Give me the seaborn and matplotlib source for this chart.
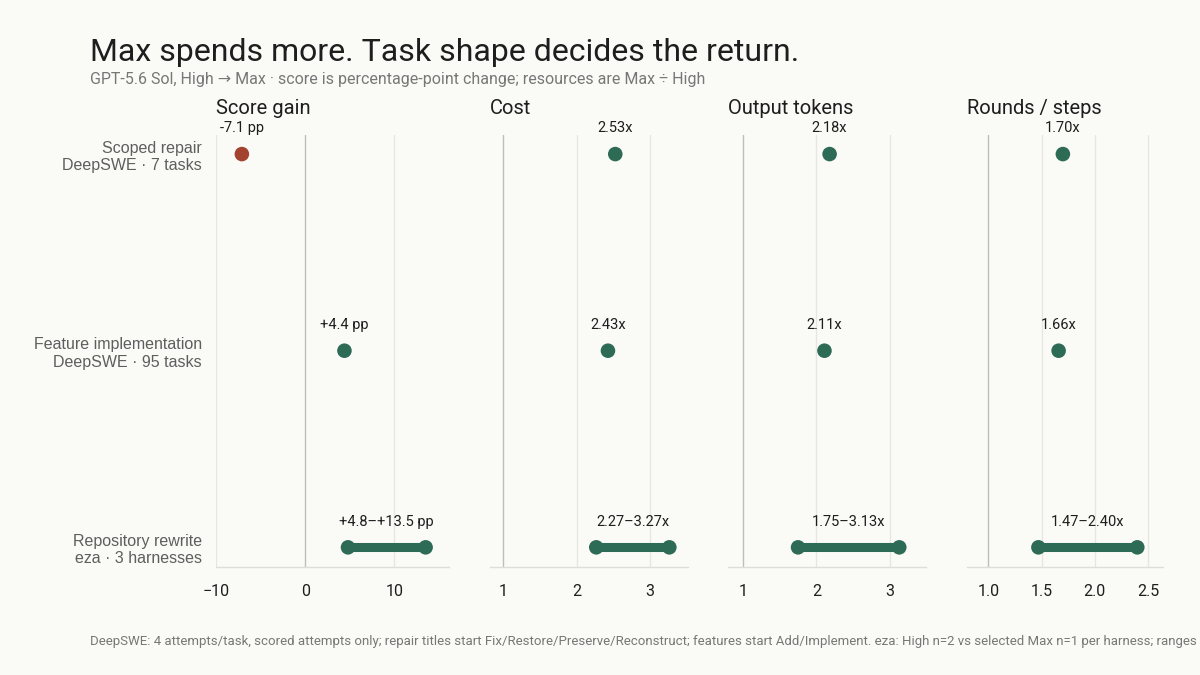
import matplotlib
matplotlib.use("Agg")
import matplotlib.pyplot as plt
import seaborn as sns
import pandas as pd

# data
rows = ["Scoped repair\nDeepSWE · 7 tasks",
        "Feature implementation\nDeepSWE · 95 tasks",
        "Repository rewrite\neza · 3 harnesses"]
panels = ["Score gain", "Cost", "Output tokens", "Rounds / steps"]

score_lo = [-7.1, 4.4, 4.8]
score_hi = [-7.1, 4.4, 13.5]
cost_lo = [2.53, 2.43, 2.27]
cost_hi = [2.53, 2.43, 3.27]
tokens_lo = [2.18, 2.11, 1.75]
tokens_hi = [2.18, 2.11, 3.13]
rounds_lo = [1.70, 1.66, 1.47]
rounds_hi = [1.70, 1.66, 2.40]

score_labels = ["-7.1 pp", "+4.4 pp", "+4.8\u2013+13.5 pp"]
cost_labels = ["2.53x", "2.43x", "2.27\u20133.27x"]
tokens_labels = ["2.18x", "2.11x", "1.75\u20133.13x"]
rounds_labels = ["1.70x", "1.66x", "1.47\u20132.40x"]

score_ticks = [-10, 0, 10]
cost_ticks = [1, 2, 3]
tokens_ticks = [1, 2, 3]
rounds_ticks = [1.0, 1.5, 2.0, 2.5]

BG = "#FAFAF7"
GREEN = "#2E6B57"
RED = "#A3432F"
INK = "#1E1E1E"
GREY = "#5E5E5E"

sns.set_theme(style="white")
plt.rcParams["font.family"] = ["Roboto", "DejaVu Sans"]

fig = plt.figure(figsize=(12, 6.75), dpi=100, facecolor=BG)

specs = [
    (score_lo, score_hi, score_labels, score_ticks, (-10, 16.1), 0, "{:g}"),
    (cost_lo, cost_hi, cost_labels, cost_ticks, (0.81, 3.52), 1, "{:g}"),
    (tokens_lo, tokens_hi, tokens_labels, tokens_ticks, (0.8, 3.5), 1, "{:g}"),
    (rounds_lo, rounds_hi, rounds_labels, rounds_ticks, (0.8, 2.64), 1, "{:.1f}"),
]
lefts = [0.180, 0.408, 0.607, 0.806]
widths = [0.194, 0.165, 0.165, 0.163]

for i, (lo, hi, labs, ticks, xlim, ref, fmt) in enumerate(specs):
    ax = fig.add_axes([lefts[i], 0.16, widths[i], 0.64])
    ax.set_facecolor(BG)
    df = pd.DataFrame({"row": range(len(rows)), "lo": lo, "hi": hi, "lab": labs})
    df["kind"] = ["neg" if (i == 0 and h < 0) else "pos" for h in df["hi"]]

    for t in ticks:
        ax.axvline(t, color="#BDBDBD" if t == ref else "#E6E6E3",
                   lw=1.0, zorder=0)

    rng = df[df["lo"] != df["hi"]]
    ax.hlines(rng["row"], rng["lo"], rng["hi"], color=GREEN, lw=6.5,
              zorder=2)
    pts = pd.concat([df[["row", "lo", "kind"]].rename(columns={"lo": "x"}),
                     rng[["row", "hi", "kind"]].rename(columns={"hi": "x"})])
    sns.scatterplot(data=pts, x="x", y="row", hue="kind",
                    palette={"neg": RED, "pos": GREEN}, s=110,
                    edgecolor="none", legend=False, ax=ax, zorder=3)

    for _, r in df.iterrows():
        ax.text((r["lo"] + r["hi"]) / 2, r["row"] - 0.095, r["lab"],
                ha="center", va="bottom", fontsize=10.5, color=INK)

    ax.set_xlim(*xlim)
    ax.set_ylim(2.10, -0.097)
    ax.set_xticks(ticks)
    ax.set_xticklabels([fmt.format(t).replace("-", "\u2212") for t in ticks])
    ax.tick_params(axis="x", length=4, width=0.8, color="#BDBDBD",
                   labelsize=11.5, labelcolor=INK, pad=8)
    ax.set_xlabel("")
    ax.set_ylabel("")
    for s in ["top", "right", "left"]:
        ax.spines[s].set_visible(False)
    ax.spines["bottom"].set_color("#DDDDDA")
    ax.spines["bottom"].set_linewidth(1.0)
    if i == 0:
        ax.set_yticks(range(len(rows)))
        ax.set_yticklabels(rows, fontsize=11.5, color=GREY,
                           family=["Liberation Sans", "DejaVu Sans"])
        ax.tick_params(axis="y", length=0, pad=10)
    else:
        ax.set_yticks([])
    ax.set_title(panels[i], loc="left", fontsize=14.5, color=INK, pad=15,
                 x=0.0)

fig.text(0.075, 0.922, "Max spends more. Task shape decides the return.",
         fontsize=23, color=INK, va="center", ha="left")
fig.text(0.075, 0.882,
         "GPT-5.6 Sol, High \u2192 Max \u00b7 score is percentage-point change; "
         "resources are Max \u00f7 High",
         fontsize=11.5, color="#777777", va="center", ha="left")
fig.text(0.075, 0.050,
         "DeepSWE: 4 attempts/task, scored attempts only; repair titles start "
         "Fix/Restore/Preserve/Reconstruct; features start Add/Implement. "
         "eza: High n=2 vs selected Max n=1 per harness; ranges show "
         "min\u2013max across harnesses.",
         fontsize=9.5, color="#777777", va="center", ha="left")

fig.savefig("out.png", dpi=100, facecolor=BG)
